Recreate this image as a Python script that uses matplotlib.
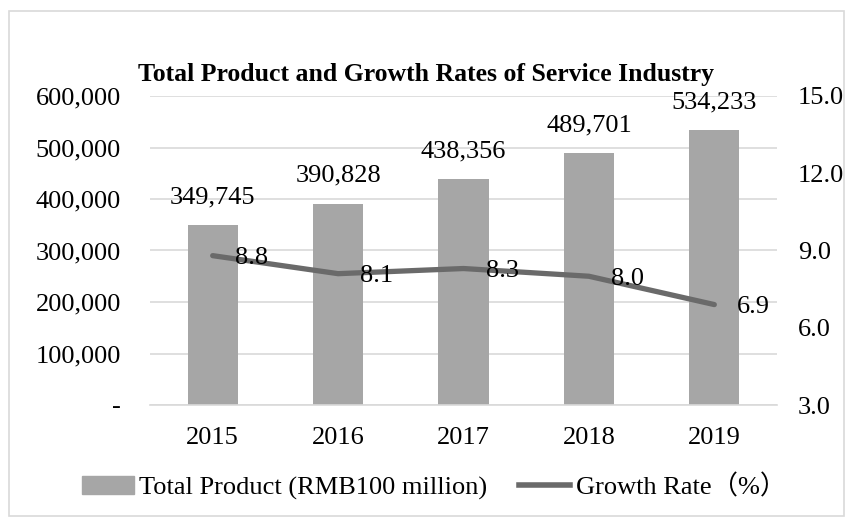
import matplotlib
matplotlib.use("Agg")
import matplotlib.pyplot as plt
from matplotlib.patches import Rectangle
from matplotlib.lines import Line2D
from matplotlib.ticker import FuncFormatter

plt.rcParams['font.family'] = ['Liberation Serif', 'Noto Sans CJK SC']

years = ['2015', '2016', '2017', '2018', '2019']
total_product = [349745, 390828, 438356, 489701, 534233]
growth_rate = [8.8, 8.1, 8.3, 8.0, 6.9]

bar_color = '#A6A6A6'
line_color = '#6A6A6A'
grid_color = '#D9D9D9'
fs = 19

W, H = 851, 521
fig = plt.figure(figsize=(W / 100, H / 100), dpi=100)
# outer border
fig.patches.append(Rectangle((9 / W, 1 - 516 / H), (844 - 9) / W, (516 - 11) / H,
                             transform=fig.transFigure, fill=False,
                             edgecolor=grid_color, linewidth=1.2))

ax = fig.add_axes([150 / W, 1 - 405 / H, (777 - 150) / W, (405 - 96) / H])
x = range(len(years))
ax.bar(x, total_product, width=0.4, color=bar_color, zorder=2)
ax.set_ylim(0, 600000)
ax.set_xlim(-0.5, len(years) - 0.5)
ax.set_yticks(range(0, 600001, 100000))
ax.yaxis.set_major_formatter(FuncFormatter(lambda v, p: '-' if v == 0 else f'{int(v):,}'))
ax.set_xticks(list(x))
ax.set_xticklabels(years)
ax.grid(axis='y', color=grid_color, linewidth=1.2, zorder=0)
for s in ax.spines.values():
    s.set_visible(False)
ax.spines['bottom'].set_visible(True)
ax.spines['bottom'].set_color(grid_color)
ax.spines['bottom'].set_linewidth(1.2)
ax.tick_params(length=0, labelsize=fs)
ax.tick_params(axis='x', pad=16)
ax.tick_params(axis='y', pad=21)

for i, v in enumerate(total_product):
    ax.annotate(f'{v:,}', (i, v), xytext=(0, 20), textcoords='offset points',
                ha='center', va='center', fontsize=fs)

ax2 = ax.twinx()
ax2.plot(list(x), growth_rate, color=line_color, linewidth=3.8, solid_capstyle='round', zorder=3)
ax2.set_ylim(3, 15)
ax2.set_yticks([3, 6, 9, 12, 15])
ax2.yaxis.set_major_formatter(FuncFormatter(lambda v, p: f'{v:.1f}'))
for s in ax2.spines.values():
    s.set_visible(False)
ax2.tick_params(length=0, labelsize=fs, pad=15)

for i, v in enumerate(growth_rate):
    ax2.annotate(f'{v:.1f}', (i, v), xytext=(16, -2), textcoords='offset points',
                 ha='left', va='center', fontsize=fs)

fig.text(0.5, 1 - 75 / H, 'Total Product and Growth Rates of Service Industry',
         ha='center', va='center', fontsize=18.5, fontweight='bold')

handles = [Rectangle((0, 0), 1, 1, color=bar_color),
           Line2D([0], [0], color=line_color, linewidth=4)]
fig.legend(handles, ['Total Product (RMB100 million)', 'Growth Rate（%）'],
           loc='center', bbox_to_anchor=(434 / W, 1 - 487 / H), ncol=2, frameon=False,
           fontsize=fs, handlelength=1.95, handletextpad=0.2, columnspacing=1.2)

fig.savefig('out.png', dpi=100)
